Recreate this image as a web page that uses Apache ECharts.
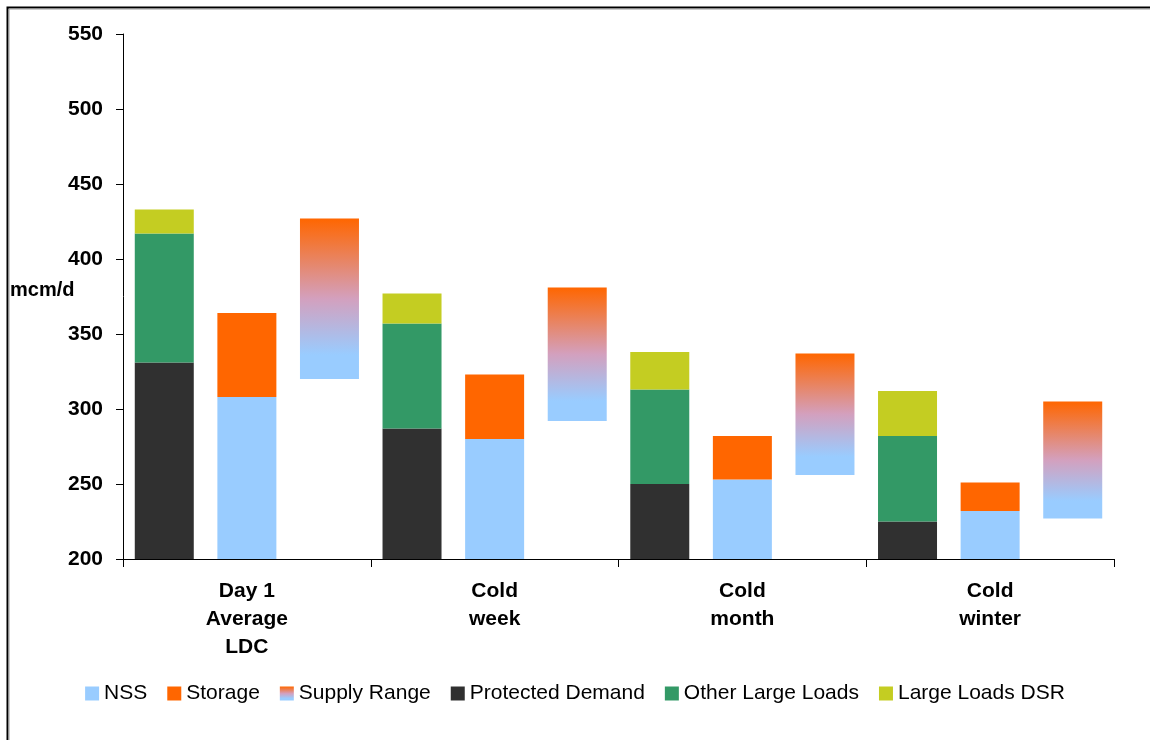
<!DOCTYPE html>
<html>
<head>
<meta charset="utf-8">
<title>Demand and supply ranges</title>
<script src="https://cdn.jsdelivr.net/npm/echarts@6/dist/echarts.min.js"></script>
<style>
  html, body { margin: 0; padding: 0; background: #fff; }
  #chart { width: 1150px; height: 740px; }
</style>
</head>
<body>
<div id="chart"></div>
<script>
// Scenario categories
const categories = ['Day 1\nAverage\nLDC', 'Cold\nweek', 'Cold\nmonth', 'Cold\nwinter'];

// Demand stack (mcm/d), bottom to top
const protectedDemand = [331, 287, 250, 225];
const otherLargeLoads = [86, 70, 63, 57];
const largeLoadsDSR = [16, 20, 25, 30];

// Supply stack (mcm/d)
const nss = [308, 280, 253, 232];
const storage = [56, 43, 29, 19];

// Supply range: low and high ends (mcm/d)
const supplyLow = [320, 292, 256, 227];
const supplyHigh = [427, 381, 337, 305];

// Y axis ticks
const yMin = 200, yMax = 550, yStep = 50;

const FONT = '"Liberation Sans", Arial, sans-serif';
const supplyRange = supplyHigh.map((h, i) => h - supplyLow[i]);

const rangeGradient = new echarts.graphic.LinearGradient(0, 0, 0, 1, [
  { offset: 0, color: '#FF6600' },
  { offset: 0.5, color: '#D3A0BE' },
  { offset: 0.85, color: '#99CCFF' },
  { offset: 1, color: '#99CCFF' }
]);

const chart = echarts.init(document.getElementById('chart'), null, { renderer: 'canvas' });

const barW = 59;

chart.setOption({
  animation: false,
  backgroundColor: '#fff',
  grid: { left: 123, top: 34, right: 36, bottom: 181, containLabel: false },
  graphic: [
    { type: 'rect', shape: { x: 7.5, y: 7.5, width: 1200, height: 800 },
      style: { fill: 'none', stroke: '#000', lineWidth: 2 }, silent: true },
    { type: 'rect', shape: { x: 9, y: 9, width: 1200, height: 800 },
      style: { fill: 'none', stroke: '#999', lineWidth: 1 }, silent: true },
    { type: 'text', left: 10, top: 280,
      style: { text: 'mcm/d', font: 'bold 20px ' + FONT, fill: '#000' } }
  ],
  legend: {
    data: ['NSS', 'Storage', 'Supply Range', 'Protected Demand', 'Other Large Loads', 'Large Loads DSR'],
    left: 'center',
    top: 678,
    itemWidth: 14,
    itemHeight: 14,
    itemGap: 20,
    icon: 'rect',
    textStyle: { fontFamily: FONT, fontSize: 21, color: '#000' }
  },
  xAxis: {
    type: 'category',
    data: categories,
    axisLine: { lineStyle: { color: '#000', width: 1 } },
    axisTick: { show: true, length: 8, lineStyle: { color: '#000' } },
    axisLabel: {
      color: '#000', fontFamily: FONT, fontWeight: 'bold', fontSize: 21,
      lineHeight: 28, margin: 18, interval: 0
    },
    splitLine: { show: false }
  },
  yAxis: {
    type: 'value',
    min: yMin, max: yMax, interval: yStep,
    axisLine: { show: true, lineStyle: { color: '#000', width: 1 } },
    axisTick: { show: true, length: 7, lineStyle: { color: '#000' } },
    axisLabel: { color: '#000', fontFamily: FONT, fontWeight: 'bold', fontSize: 21, margin: 20 },
    splitLine: { show: false }
  },
  series: [
    { name: 'Protected Demand', type: 'bar', stack: 'demand', data: protectedDemand,
      barWidth: barW, barGap: '40%', itemStyle: { color: '#303030' } },
    { name: 'Other Large Loads', type: 'bar', stack: 'demand', data: otherLargeLoads,
      barWidth: barW, itemStyle: { color: '#339966' } },
    { name: 'Large Loads DSR', type: 'bar', stack: 'demand', data: largeLoadsDSR,
      barWidth: barW, itemStyle: { color: '#C4CD22' } },
    { name: 'NSS', type: 'bar', stack: 'supply', data: nss,
      barWidth: barW, itemStyle: { color: '#99CCFF' } },
    { name: 'Storage', type: 'bar', stack: 'supply', data: storage,
      barWidth: barW, itemStyle: { color: '#FF6600' } },
    { name: 'rangeBase', type: 'bar', stack: 'range', data: supplyLow,
      barWidth: barW, silent: true, itemStyle: { color: 'rgba(0,0,0,0)' } },
    { name: 'Supply Range', type: 'bar', stack: 'range', data: supplyRange,
      barWidth: barW, itemStyle: { color: rangeGradient } }
  ]
});
</script>
</body>
</html>
